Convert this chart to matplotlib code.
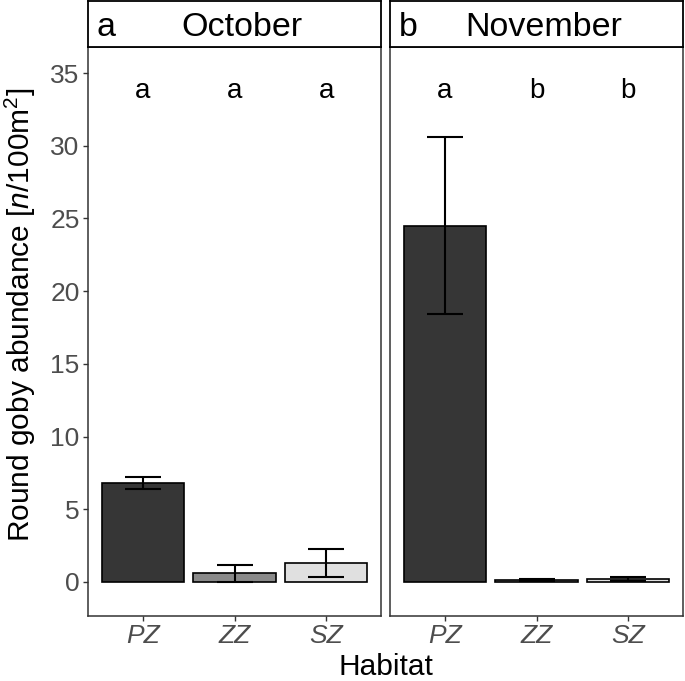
import numpy as np
import matplotlib
matplotlib.use('Agg')
import matplotlib.pyplot as plt

plt.rcParams['font.family'] = ['Liberation Sans', 'DejaVu Sans']
plt.rcParams['mathtext.fontset'] = 'custom'
plt.rcParams['mathtext.rm'] = 'Liberation Sans'
plt.rcParams['mathtext.it'] = 'Liberation Sans:italic'

# data
habitats = ['PZ', 'ZZ', 'SZ']
months = ['October', 'November']
tags = ['a', 'b']
oct_mean = [6.8, 0.6, 1.28]
oct_lo = [6.37, 0.0, 0.32]
oct_hi = [7.2, 1.19, 2.25]
oct_letters = ['a', 'a', 'a']
nov_mean = [24.5, 0.14, 0.2]
nov_lo = [18.4, 0.08, 0.1]
nov_hi = [30.58, 0.23, 0.32]
nov_letters = ['a', 'b', 'b']
colors = ['#363636', '#8a8a8a', '#e0e0e0']

W, H = 685, 681
fig = plt.figure(figsize=(W / 100, H / 100), dpi=100)


def px_axes(x0, y0, x1, y1):
    return fig.add_axes([x0 / W, 1 - y1 / H, (x1 - x0) / W, (y1 - y0) / H])


panels = [(88, 47, 381, 616), (390, 47, 683, 616)]
strips = [(88, 1, 381, 47), (390, 1, 683, 47)]
title_x = [242, 544]
series = [(oct_mean, oct_lo, oct_hi, oct_letters), (nov_mean, nov_lo, nov_hi, nov_letters)]

x = np.arange(1, len(habitats) + 1)
for i, (mean, lo, hi, letters) in enumerate(series):
    ax = px_axes(*panels[i])
    mean = np.array(mean)
    yerr = [mean - np.array(lo), np.array(hi) - mean]
    ax.bar(x, mean, width=0.9, color=colors, edgecolor='black', linewidth=1.2, zorder=2)
    ax.errorbar(x, mean, yerr=yerr, fmt='none', ecolor='black', elinewidth=1.5,
                capsize=13, capthick=1.5, zorder=3)
    for xi, lt in zip(x, letters):
        ax.text(xi, 33.3, lt, ha='center', va='baseline', fontsize=20, color='black')
    ax.set_xlim(0.4, 3.6)
    ax.set_ylim(-2.34, 36.79)
    ax.set_xticks(x)
    ax.set_xticklabels(habitats, style='italic')
    ax.tick_params(axis='both', length=3.6, width=1, color='#333333', labelcolor='#4d4d4d',
                   labelsize=19, pad=2.5)
    if i == 0:
        ax.set_yticks(np.arange(0, 36, 5))
    else:
        ax.set_yticks([])
    for s in ax.spines.values():
        s.set_color('#333333')
        s.set_linewidth(1.1)

    # facet strip
    sx = px_axes(*strips[i])
    sx.set_xticks([])
    sx.set_yticks([])
    for s in sx.spines.values():
        s.set_color('black')
        s.set_linewidth(1.3)
    x0, y0, x1, y1 = strips[i]
    sx.text(9 / (x1 - x0), (y1 - 36) / (y1 - y0), tags[i], transform=sx.transAxes,
            ha='left', va='baseline', fontsize=24.5, color='black')
    sx.text((title_x[i] - x0) / (x1 - x0), (y1 - 36) / (y1 - y0), months[i],
            transform=sx.transAxes, ha='center', va='baseline', fontsize=24.5, color='black')

fig.text(386 / W, 1 - 675 / H, 'Habitat', ha='center', va='baseline', fontsize=21.5)
fig.text(20 / W, 1 - 315 / H, r'Round goby abundance [$\mathit{n}$/100m$^{2}$]',
         rotation=90, ha='center', va='center', fontsize=21.5)

fig.savefig('out.png', dpi=100)
